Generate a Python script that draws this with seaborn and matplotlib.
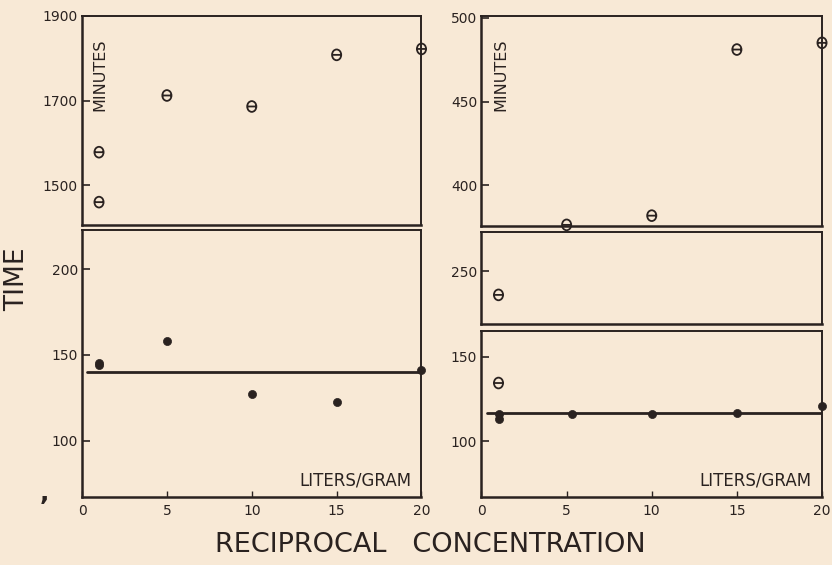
import matplotlib
matplotlib.use("Agg")
import matplotlib.pyplot as plt
from matplotlib.path import Path
from matplotlib.transforms import Affine2D
import seaborn as sns
import pandas as pd

# values
x_ticks = [0, 5, 10, 15, 20]

left_open_x = [1, 1, 5, 10, 15, 20]
left_open_y = [1578, 1460, 1712, 1686, 1808, 1822]
left_dot_x = [1, 1, 5, 10, 15, 20]
left_dot_y = [144, 145.5, 158, 127, 122.5, 141]
left_fit_x = [0.3, 20]
left_fit_y = [140, 140]

right_open_x = [1, 1, 5, 10, 15, 20]
right_open_y = [134.5, 236, 376.5, 382, 481, 485]
right_dot_x = [1, 1, 5.3, 10, 15, 20]
right_dot_y = [116.3, 113.4, 116.1, 116.3, 116.7, 121]
right_fit_x = [0.3, 20]
right_fit_y = [116.5, 116.5]

INK = "#2a2220"
PAPER = "#f8e9d6"

sns.set_style("ticks")
plt.rcParams["font.family"] = ["DejaVu Sans"]
plt.rcParams["axes.edgecolor"] = INK
plt.rcParams["text.color"] = INK
plt.rcParams["xtick.color"] = INK
plt.rcParams["ytick.color"] = INK

# open circle with a bar through it
theta = Path.make_compound_path(Path.unit_circle(), Path([(-1, 0), (1, 0)]))
theta = theta.transformed(Affine2D().scale(0.85, 1.0))

fig = plt.figure(figsize=(8.32, 5.65), dpi=100)
fig.patch.set_facecolor(PAPER)


def make_panel(rect, ylim, yticks, bottom=False):
    ax = fig.add_axes(rect)
    ax.set_facecolor(PAPER)
    ax.set_xlim(0, 20)
    ax.set_ylim(*ylim)
    ax.set_yticks(yticks)
    ax.set_yticklabels([str(t) for t in yticks])
    ax.tick_params(axis="y", direction="in", length=6, width=1.2, pad=3, labelsize=10)
    if bottom:
        ax.set_xticks(x_ticks)
        ax.set_xticklabels([str(t) for t in x_ticks])
        ax.tick_params(axis="x", direction="in", length=4, width=1, pad=5, labelsize=10)
    else:
        ax.set_xticks([])
    for s in ax.spines.values():
        s.set_visible(True)
        s.set_linewidth(1.4)
    ax.spines["left"].set_linewidth(1.8)
    ax.spines["bottom"].set_linewidth(1.8)
    return ax


def draw_open(ax, xs, ys):
    lo, hi = ax.get_ylim()
    df = pd.DataFrame({"x": xs, "y": ys})
    df = df[(df.y >= lo - 2) & (df.y <= hi + 2)]
    if len(df):
        sns.scatterplot(data=df, x="x", y="y", ax=ax, marker=theta, s=60,
                        facecolor="none", edgecolor=INK, linewidth=1.3,
                        clip_on=False, zorder=4)


def draw_dots(ax, xs, ys):
    lo, hi = ax.get_ylim()
    df = pd.DataFrame({"x": xs, "y": ys})
    df = df[(df.y >= lo - 2) & (df.y <= hi + 2)]
    if len(df):
        sns.scatterplot(data=df, x="x", y="y", ax=ax, marker="o", s=34,
                        color=INK, edgecolor=INK, linewidth=0.5,
                        clip_on=False, zorder=4)


# left column
ax_lu = make_panel([0.0986, 0.6018, 0.408, 0.370], (1406, 1900), [1500, 1700, 1900])
ax_ll = make_panel([0.0986, 0.1195, 0.408, 0.4743], (67, 223), [100, 150, 200], bottom=True)

# right column
ax_ru = make_panel([0.5787, 0.6005, 0.4093, 0.3712], (376, 501), [400, 450, 500])
ax_rm = make_panel([0.5787, 0.4260, 0.4093, 0.1628], (218.6, 273), [250])
ax_rl = make_panel([0.5787, 0.1209, 0.4093, 0.2933], (67, 165.4), [100, 150], bottom=True)

for ax in (ax_lu, ax_ll):
    draw_open(ax, left_open_x, left_open_y)
    draw_dots(ax, left_dot_x, left_dot_y)
sns.lineplot(x=left_fit_x, y=left_fit_y, ax=ax_ll, color=INK, linewidth=2, zorder=3)

for ax in (ax_ru, ax_rm, ax_rl):
    draw_open(ax, right_open_x, right_open_y)
    draw_dots(ax, right_dot_x, right_dot_y)
sns.lineplot(x=right_fit_x, y=right_fit_y, ax=ax_rl, color=INK, linewidth=2, zorder=3)

for ax in (ax_lu, ax_ll, ax_ru, ax_rm, ax_rl):
    ax.set_xlabel("")
    ax.set_ylabel("")

# labels inside the panels
ax_lu.text(0.053, 0.72, "MINUTES", transform=ax_lu.transAxes, rotation=90,
           ha="center", va="center", fontsize=11.5)
ax_ru.text(0.056, 0.72, "MINUTES", transform=ax_ru.transAxes, rotation=90,
           ha="center", va="center", fontsize=11.5)
ax_ll.text(0.972, 0.065, "LITERS/GRAM", transform=ax_ll.transAxes,
           ha="right", va="center", fontsize=12)
ax_rl.text(0.970, 0.10, "LITERS/GRAM", transform=ax_rl.transAxes,
           ha="right", va="center", fontsize=12)

fig.text(0.021, 0.506, "TIME", rotation=90, ha="center", va="center", fontsize=19)
fig.text(0.517, 0.035, "RECIPROCAL   CONCENTRATION", ha="center", va="center", fontsize=19.5)

# speck of ink at the lower left of the scan
fig.text(0.053, 0.128, ",", ha="center", va="center", fontsize=18, fontweight="bold")

fig.savefig("out.png", dpi=100, facecolor=PAPER)
